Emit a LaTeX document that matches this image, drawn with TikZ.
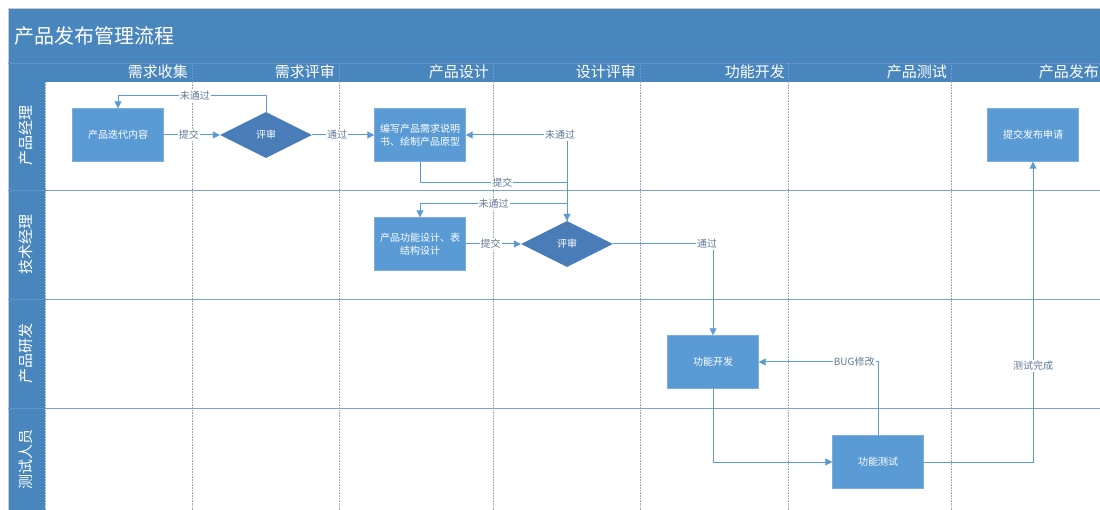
\documentclass[tikz,border=0pt]{standalone}
\usepackage{fontspec}
\setmainfont{Noto Sans CJK SC}
\usetikzlibrary{shapes.geometric,arrows.meta,calc}
\definecolor{band}{HTML}{4A86BE}
\definecolor{boxc}{HTML}{5B9BD5}
\definecolor{diac}{HTML}{4A7DB8}
\definecolor{linec}{HTML}{5B9BD5}
\definecolor{lblc}{HTML}{5F7A99}
\definecolor{gridc}{HTML}{8FA9C4}
\definecolor{lanec}{HTML}{7AA3CF}
\tikzset{
  procbox/.style={rectangle,fill=boxc,draw=boxc!80!white,line width=0.4pt,minimum width=91pt,minimum height=53pt,inner sep=2pt,align=center,text=white,font=\fontsize{10}{13}\selectfont},
  decide/.style={diamond,fill=diac,minimum width=92pt,minimum height=46pt,aspect=2,inner sep=0pt,text=white,font=\fontsize{10}{12}\selectfont},
  flow/.style={draw=linec,line width=1pt,-{Triangle[width=7pt,length=7pt]}},
  flowplain/.style={draw=linec,line width=1pt},
  lbl/.style={fill=white,inner sep=1pt,text=lblc,font=\fontsize{10}{11}\selectfont},
  colhead/.style={anchor=east,text=white,font=\fontsize{15}{16}\selectfont,inner sep=0pt},
  lanehead/.style={rotate=90,text=white,font=\fontsize{15}{16}\selectfont,inner sep=0pt},
  gridline/.style={draw=gridc,line width=0.6pt,densely dotted},
  laneline/.style={draw=lanec,line width=0.9pt}
}
\begin{document}
\begin{tikzpicture}[x=1pt,y=-1pt]
\useasboundingbox (0,0) rectangle (1100,510);
\fill[white] (0,0) rectangle (1100,510);
% frame
\fill[band] (8,8) rectangle (1100,82);
\fill[band] (8,82) rectangle (45,510);
\draw[gray!40,line width=0.8pt] (8,510) -- (8,8) -- (1100,8);
\node[anchor=west,text=white,font=\fontsize{20}{22}\selectfont,inner sep=0pt] (title) at (14,36) {产品发布管理流程};
\draw[gridc!60!band,line width=0.6pt,densely dotted] (8,63) -- (1100,63);
% column headers
\node[colhead] (h1) at (188,72) {需求收集};
\node[colhead] (h2) at (335,72) {需求评审};
\node[colhead] (h3) at (489,72) {产品设计};
\node[colhead] (h4) at (636,72) {设计评审};
\node[colhead] (h5) at (785,72) {功能开发};
\node[colhead] (h6) at (947,72) {产品测试};
\node[colhead] (h7) at (1099,72) {产品发布};
% lane heads
\node[lanehead] (l1) at (26,136) {产品经理};
\node[lanehead] (l2) at (26,245) {技术经理};
\node[lanehead] (l3) at (26,354) {产品研发};
\node[lanehead] (l4) at (26,459) {测试人员};
% grid
\foreach \xx in {192,339,493,640,788,951}{
  \draw[gridc!60!band,line width=0.6pt,densely dotted] (\xx,63) -- (\xx,82);
  \draw[gridline] (\xx,82) -- (\xx,510);
}
\draw[gridline] (45,82) -- (45,510);
\foreach \yy in {190,299,408}{
  \draw[laneline] (45,\yy) -- (1100,\yy);
  \draw[gridc!60!band,line width=0.6pt,densely dotted] (8,\yy) -- (45,\yy);
}
% nodes
\node[procbox] (r0) at (118,135) {产品迭代内容};
\node[decide] (d1) at (266,135) {评审};
\node[procbox] (r1) at (420,135) {编写产品需求说明\\书、绘制产品原型};
\node[procbox] (p1) at (1033,135) {提交发布申请};
\node[procbox] (r2) at (420,244) {产品功能设计、表\\结构设计};
\node[decide] (d2) at (567,244) {评审};
\node[procbox] (f1) at (713,362) {功能开发};
\node[procbox] (t1) at (878,462) {功能测试};
% coordinates
\coordinate (c1) at (266,96);
\coordinate (c2) at (567,183);
\coordinate (c3) at (567,204);
% edges
\draw[flow] (r0) -- node[lbl,pos=0.45]{提交} (d1);
\draw[flow] (d1.north) -- (c1) -- node[lbl,pos=0.48]{未通过} (c1 -| r0.north) -- (r0.north);
\draw[flow] (d1) -- node[lbl,pos=0.4]{通过} (r1);
\draw[flow] (d2.north) -- (d2.north |- r1.east) node[lbl,xshift=-7pt]{未通过} -- (r1.east);
\draw[flowplain] (d2.north) -- (c3) -- node[lbl,pos=0.5]{未通过} (c3 -| r2.north);
\draw[flow] (c3 -| r2.north) -- (r2.north);
\draw[flow] (r1.south) |- node[lbl,pos=0.78]{提交} (c2) -- (d2.north);
\draw[flow] (r2) -- node[lbl,pos=0.45]{提交} (d2);
\draw[flow] (d2.east) -| node[lbl,pos=0.5,xshift=-6pt]{通过} (f1.north);
\draw[flow] (f1.south) |- (t1.west);
\draw[flow] (t1.north) |- node[lbl,pos=0.5,anchor=east,xshift=-2pt]{BUG修改} (f1.east);
\draw[flow] (t1.east) -| node[lbl,pos=0.66]{测试完成} (p1.south);
\end{tikzpicture}
\end{document}
